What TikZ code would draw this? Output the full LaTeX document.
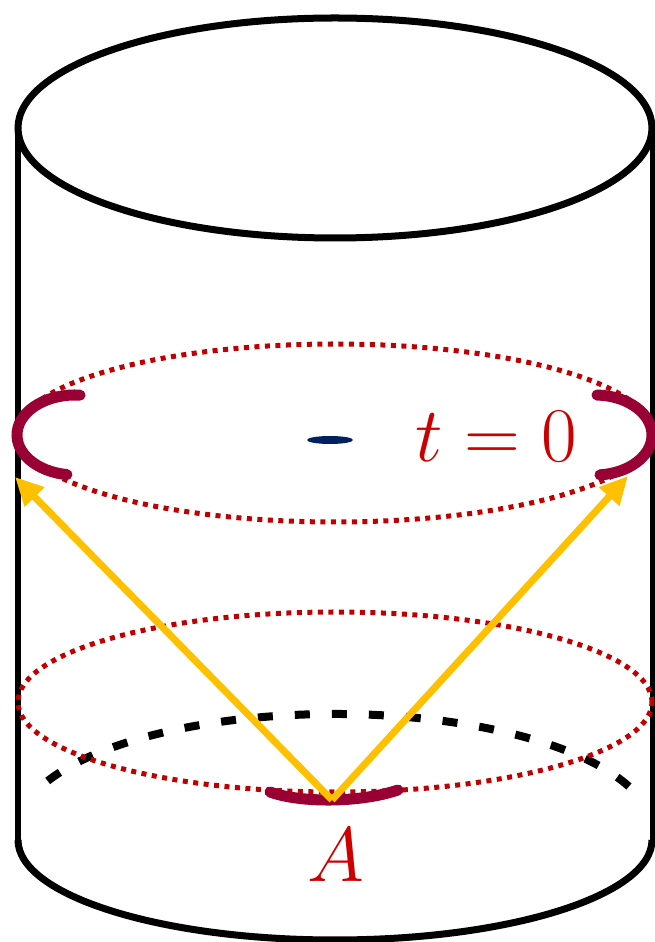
\RequirePackage{fix-cm}
\documentclass[tikz,border=0pt]{standalone}
\usepackage{amsmath,amssymb}
\usetikzlibrary{arrows.meta}
\definecolor{dotred}{HTML}{C00000}
\definecolor{textred}{HTML}{CC0000}
\definecolor{maroon}{HTML}{990033}
\definecolor{raygold}{HTML}{FFC000}
\definecolor{navy}{HTML}{002060}
\begin{document}
\begin{tikzpicture}[x=0.01cm,y=0.01cm,
    rim/.style={line width=0.07cm,black},
    dotring/.style={dotred,line width=0.05cm,dash pattern=on 0.05cm off 0.055cm},
    maroonarc/.style={maroon,line width=0.11cm,line cap=round},
    lightray/.style={raygold,line width=0.07cm,-{Triangle[length=0.28cm,width=0.26cm]}}]
        % Cylinder with two time slices and light rays from A
        \useasboundingbox (0,0) rectangle (655,942);
        \draw[rim] (335,814) ellipse [x radius=317, y radius=110];
        \draw[line width=0.05cm] (18,814) -- (18,102);
        \draw[line width=0.05cm] (652,814) -- (652,102);
        \draw[rim] (18,102) arc [start angle=180, end angle=360, x radius=317, y radius=100];
        \draw[line width=0.08cm,dash pattern=on 0.15cm off 0.22cm] (335,112) ++(22:317 and 116) arc [start angle=22, end angle=158, x radius=317, y radius=116];
        \draw[dotring] (335,509) ellipse [x radius=317, y radius=89];
        \draw[dotring] (335,240) ellipse [x radius=317, y radius=90];
        \draw[maroonarc] (75,507) ++(85:58 and 40) arc [start angle=85, end angle=262, x radius=58, y radius=40];
        \draw[maroonarc] (595,507) ++(88:57 and 40) arc [start angle=88, end angle=-85, x radius=57, y radius=40];
        \draw[maroonarc] (270,150) .. controls (300,139) and (360,139) .. (398,152);
        \fill[navy] (330,502) ellipse [x radius=23, y radius=4];
        \node[textred,font=\fontsize{22}{26}\selectfont] (tlabel) at (496,505) {$t=0$};
        \node[textred,font=\fontsize{22}{26}\selectfont] (alabel) at (336,87) {$A$};
        \coordinate (apex) at (332,142);
        \coordinate (lefttip) at (15,465);
        \coordinate (righttip) at (628,466);
        \draw[lightray] (apex) -- (lefttip);
        \draw[lightray] (apex) -- (righttip);
    \end{tikzpicture}
\end{document}
